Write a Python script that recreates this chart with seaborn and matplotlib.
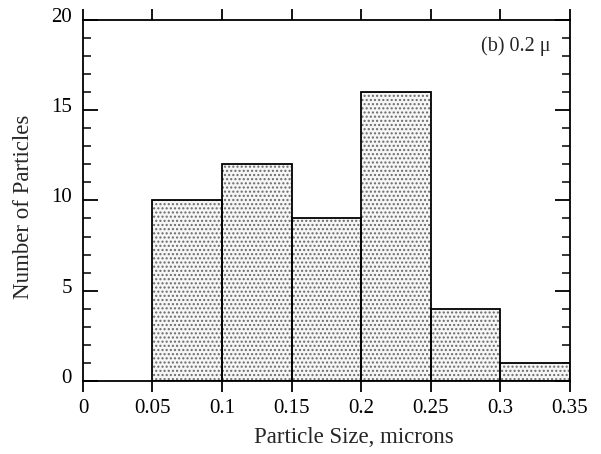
import matplotlib
matplotlib.use("Agg")
import matplotlib.pyplot as plt
import matplotlib.transforms as mtransforms
from matplotlib.ticker import MultipleLocator
import seaborn as sns
import numpy as np

bin_edges = [0.05, 0.10, 0.15, 0.20, 0.25, 0.30, 0.35]
bin_centers = [0.075, 0.125, 0.175, 0.225, 0.275, 0.325]
counts = [10, 12, 9, 16, 4, 1]
x_ticks = [0, 0.05, 0.1, 0.15, 0.2, 0.25, 0.3, 0.35]
x_tick_labels = ["0", "0.05", "0.1", "0.15", "0.2", "0.25", "0.3", "0.35"]
y_ticks = [0, 5, 10, 15, 20]

sns.set_style("ticks")
plt.rcParams['font.family'] = ['Liberation Serif', 'DejaVu Serif']
plt.rcParams['hatch.color'] = '#6a6a6a'
plt.rcParams['hatch.linewidth'] = 1.0

fig = plt.figure(figsize=(6.01, 4.54), dpi=100)
ax = fig.add_axes([0.138, 0.161, 0.810, 0.795])

# hatched fill layer
sns.histplot(x=bin_centers, weights=counts, bins=bin_edges, ax=ax,
             stat="count", element="bars", fill=True,
             color="#f6f6f6", alpha=1.0, linewidth=0, edgecolor="#6a6a6a")
for p in ax.patches:
    p.set_hatch("....")
    p.set_edgecolor("#6a6a6a")
    p.set_linewidth(0)
# outline layer
sns.histplot(x=bin_centers, weights=counts, bins=bin_edges, ax=ax,
             stat="count", element="bars", fill=False,
             color="black", linewidth=1.3)

ax.set_xlim(0, 0.35)
ax.set_ylim(0, 20)
ax.set_xticks(x_ticks)
ax.set_xticklabels(x_tick_labels)
ax.set_yticks(y_ticks)
ax.yaxis.set_minor_locator(MultipleLocator(1))

ax.tick_params(axis='x', which='major', direction='out', length=8, width=1.3,
               top=True, bottom=True, labeltop=False, labelsize=15, pad=5, colors='black')
ax.tick_params(axis='y', which='major', direction='in', length=11, width=1.3,
               left=True, right=True, labelsize=15, pad=8, colors='black')
ax.tick_params(axis='y', which='minor', direction='in', length=6, width=1.3,
               left=True, right=True)

for lbl in ax.get_yticklabels():
    lbl.set_transform(lbl.get_transform() + mtransforms.ScaledTranslation(0, 5/100, fig.dpi_scale_trans))

for s in ax.spines.values():
    s.set_visible(True)
    s.set_linewidth(1.3)
    s.set_color('black')

ax.set_xlabel("Particle Size, microns", fontsize=16.5)
ax.xaxis.set_label_coords(0.556, -0.128)
ax.set_ylabel("Number of Particles", fontsize=16.5, labelpad=12)
ax.yaxis.label.set_y(0.482)
ax.text(0.96, 0.955, "(b) 0.2 \u03bc", transform=ax.transAxes, ha='right', va='top', fontsize=14.5)

fig.savefig("out.png", dpi=100)
